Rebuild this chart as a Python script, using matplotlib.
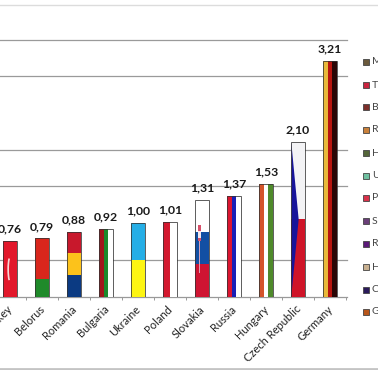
import matplotlib
matplotlib.use("Agg")
import matplotlib.pyplot as plt
from matplotlib.lines import Line2D
from matplotlib.patches import Arc, Polygon, Rectangle
from matplotlib.transforms import ScaledTranslation

countries = ["Turkey", "Belorus", "Romania", "Bulgaria", "Ukraine", "Poland",
             "Slovakia", "Russia", "Hungary", "Czech Republic", "Germany"]
values = [0.76, 0.79, 0.88, 0.92, 1.00, 1.01, 1.31, 1.37, 1.53, 2.10, 3.21]
gridlines = [0.5, 1.5, 2.0, 3.0, 3.5]

# flag stripes, "h" goes bottom to top, "v" goes left to right
stripes = {
    "Turkey": ("h", ["#e2182b"], [1]),
    "Belorus": ("h", ["#1f8a2a", "#d9261c"], [0.31, 0.69]),
    "Romania": ("h", ["#0b3a82", "#fcc21b", "#c8182c"], [1, 1, 1]),
    "Bulgaria": ("v", ["#a3161c", "#1c8a2c", "#ffffff"], [1, 1, 1]),
    "Ukraine": ("h", ["#fdf512", "#25aee6"], [1, 1]),
    "Poland": ("v", ["#d3182f", "#ffffff"], [1, 1]),
    "Slovakia": ("h", ["#cf1432", "#124fa3", "#ffffff"], [1, 1, 1]),
    "Russia": ("v", ["#dc1530", "#1a1fb5", "#ffffff"], [1, 1, 1]),
    "Hungary": ("v", ["#d4542a", "#ffffff", "#4f8a2b"], [1, 1, 1]),
    "Germany": ("v", ["#e8b93a", "#b8150f", "#2a0606"], [1.1, 1, 1]),
}

legend_letters = ["M", "T", "B", "R", "H", "U", "P", "S", "R", "H", "C", "G"]
legend_colors = ["#6b5a3c", "#c9243f", "#7c2f2a", "#c9803a", "#55663a", "#6fc0a0",
                 "#d8324a", "#6a3f78", "#5b1a78", "#c8b090", "#2a1a5a", "#b8561a"]
legend_rows = [62, 85, 107, 130, 153, 176, 198, 221, 244, 267, 290, 312]

plt.rcParams['font.family'] = ['Lato', 'DejaVu Sans']

W, H = 378, 370
fig = plt.figure(figsize=(W / 100, H / 100), dpi=100)
ax = fig.add_axes([0, (H - 296.5) / H, 347 / W, (296.5 - 39.5) / H])

bar_w = 0.42
for i, (name, val) in enumerate(zip(countries, values)):
    left = i - bar_w / 2
    if name == "Czech Republic":
        # white over red, blue wedge from the hoist
        ax.bar(i, val / 2, bar_w, color="#cf1428", zorder=3)
        ax.bar(i, val / 2, bar_w, bottom=val / 2, color="#f3f3f5", zorder=3)
        ax.add_patch(Polygon([(left, 0), (left, val), (i + 0.02, val / 2)],
                             color="#17149a", lw=0, zorder=4))
    else:
        kind, colors, parts = stripes[name]
        total = sum(parts)
        pos = 0
        for col, part in zip(colors, parts):
            if kind == "h":
                ax.bar(i, val * part / total, bar_w, bottom=val * pos / total, color=col, zorder=3)
            else:
                ax.bar(left + bar_w * pos / total, val, bar_w * part / total, align="edge", color=col, zorder=3)
            pos += part
    # outline
    ax.add_patch(Rectangle((left, 0), bar_w, val, fill=False, ec="#333333", lw=0.7, alpha=0.8, zorder=6))
    ax.text(i, val + 0.09, f"{val:.2f}".replace(".", ","), ha="center", va="bottom",
            fontsize=8.8, color="#1a1a1a", fontweight="bold", zorder=7)

# crescent on the turkish bar
ax.add_patch(Arc((0.03, 0.37), 0.17, 0.38, theta1=110, theta2=250, color="#f6d5d5", lw=1.2, zorder=5))
# slovak emblem
ax.bar(5.92, 0.44, 0.02, bottom=0.32, color="#d8a0b8", zorder=5)
ax.bar(5.92, 0.22, 0.09, bottom=0.76, color="#d8506a", zorder=5)
ax.bar(5.92, 0.09, 0.07, bottom=0.80, color="#f4e8ee", zorder=5)

ax.set_yticks([])
ax.set_xticks(range(len(countries)))
ax.set_xticklabels(countries, rotation=45, ha="right", rotation_mode="anchor", fontsize=8, color="#222222")
ax.tick_params(axis="x", which="major", length=0, pad=5)
# labels sit a little left of the bar centre
shift = ScaledTranslation(-3 / 100, 0, fig.dpi_scale_trans)
for lab in ax.get_xticklabels():
    lab.set_transform(lab.get_transform() + shift)
ax.set_xticks([i + 0.5 for i in range(len(countries))], minor=True)
ax.tick_params(axis="x", which="minor", length=2.5, width=0.7, color="#999999")
ax.set_xlim(-0.31, 10.53)
ax.set_ylim(0, 3.5)
for y in gridlines:
    ax.axhline(y, color="#9a9a9a", lw=0.9, zorder=1, clip_on=False)
for side in ["top", "right", "left"]:
    ax.spines[side].set_visible(False)
ax.spines["bottom"].set_color("#999999")
ax.spines["bottom"].set_linewidth(0.9)

# frame of the original chart
fig.add_artist(Line2D([0, 1], [1 - 4.5 / H] * 2, color="#dcdcdc", lw=1.0))
fig.add_artist(Line2D([0, 1], [1 - 368.5 / H] * 2, color="#c4c4c4", lw=2.0))

# legend, cut at the picture edge
for letter, col, row in zip(legend_letters, legend_colors, legend_rows):
    fig.add_artist(Rectangle((363 / W, 1 - (row + 3) / H), 6 / W, 6 / H, fc=col, ec="#444444", lw=0.6,
                             transform=fig.transFigure))
    fig.text(372 / W, 1 - row / H, letter, fontsize=7.5, color="#444444", va="center", ha="left")

fig.savefig("out.png", dpi=100)
